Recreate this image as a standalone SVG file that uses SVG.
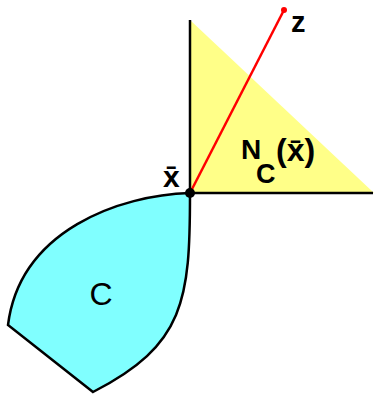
<svg xmlns="http://www.w3.org/2000/svg" width="375" height="394" viewBox="0 0 375 394">
<style>
text{font-family:"Liberation Sans",Arial,sans-serif;fill:#000}
.b{font-weight:bold}
.axis{stroke:#000;stroke-width:2.5;fill:none}
</style>
<rect width="375" height="394" fill="#fff"/>
<g id="cone">
<polygon points="190,20 190,193 374,193" fill="#ffff88"/>
</g>
<g id="set-C">
<path d="M190,193 C120,195 20,230 8,325 L93,392 C185,345 190,300 190,193 Z" fill="#80ffff" stroke="#000" stroke-width="2.5"/>
<text x="101" y="305" font-size="32" text-anchor="middle">C</text>
</g>
<g id="connectors">
<line class="axis" x1="190" y1="20" x2="190" y2="193"/>
<line class="axis" x1="190" y1="193" x2="373" y2="193"/>
<line x1="190" y1="193" x2="284" y2="10" stroke="#ff0000" stroke-width="2.5"/>
</g>
<g id="z">
<circle cx="284" cy="10" r="3" fill="#ff0000"/>
<text class="b" x="291" y="32" font-size="29">z</text>
</g>
<g id="xbar">
<circle cx="190" cy="193" r="5" fill="#000"/>
<text class="b" x="163" y="187" font-size="30">x̄</text>
</g>
<g id="label-N">
<text class="b" x="241" y="159" font-size="28">N</text>
<text class="b" x="256" y="183" font-size="27">C</text>
<text class="b" x="276" y="161" font-size="32">(x̄)</text>
</g>
</svg>
